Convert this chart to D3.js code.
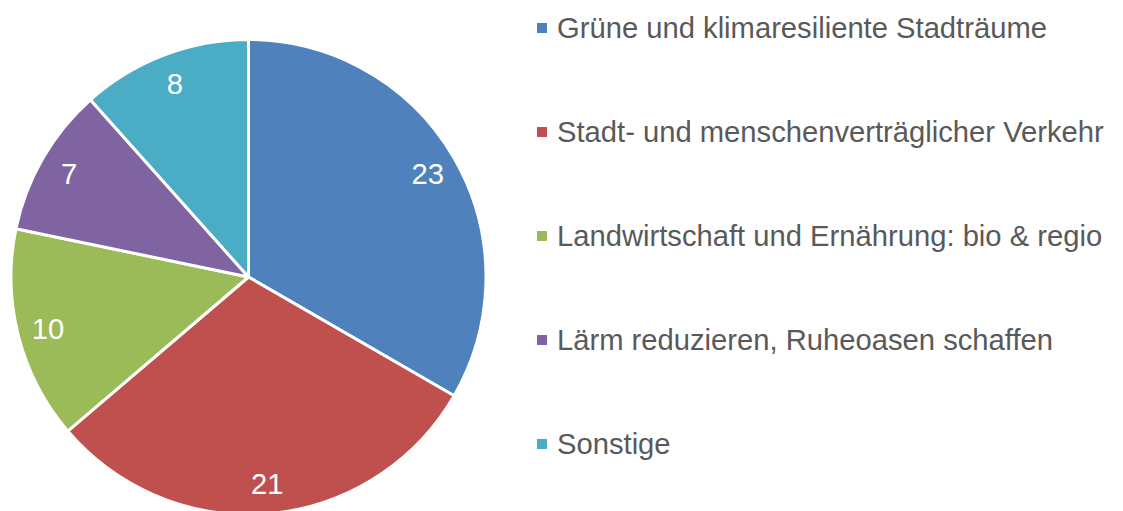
<!DOCTYPE html>
<html>
<head>
<meta charset="utf-8">
<script src="https://cdn.jsdelivr.net/npm/d3@7"></script>
<style>
body { margin: 0; background: #fff; }
text { font-family: "Liberation Sans", Arial, sans-serif; }
</style>
</head>
<body>
<svg id="chart" width="1123" height="511"></svg>
<script>
var categories = ["Grüne und klimaresiliente Stadträume",
                  "Stadt- und menschenverträglicher Verkehr",
                  "Landwirtschaft und Ernährung: bio & regio",
                  "Lärm reduzieren, Ruheoasen schaffen",
                  "Sonstige"];
var values = [23, 21, 10, 7, 8];
var colors = ["#4F81BD", "#C0504D", "#9BBB59", "#8064A2", "#4BACC6"];

var svg = d3.select("#chart"),
    cx = 248.5, cy = 277, r = 237.5,
    fs = 29.2;

var pie = d3.pie().sort(null).value(d => d.v),
    arc = d3.arc().innerRadius(0).outerRadius(r),
    labelArc = d3.arc().innerRadius(207).outerRadius(207);
var data = pie(values.map((v,i) => ({v: v, c: categories[i], col: colors[i]})));

var g = svg.append("g").attr("transform", "translate("+cx+","+cy+")");
g.selectAll("path").data(data).enter().append("path")
    .attr("d", arc)
    .attr("fill", d => d.data.col)
    .attr("stroke", "#fff")
    .attr("stroke-width", 3)
    .attr("stroke-linejoin", "round");
g.selectAll("text").data(data).enter().append("text")
    .attr("transform", d => "translate("+labelArc.centroid(d)+")")
    .attr("text-anchor", "middle")
    .attr("dy", "0.36em")
    .attr("fill", "#fff")
    .attr("font-size", fs)
    .text(d => d.data.v);

// legend
var y = d3.scalePoint().domain(categories).range([38, 454]);
var leg = svg.append("g").selectAll("g").data(categories).enter().append("g")
    .attr("transform", d => "translate(537,"+y(d)+")");
leg.append("rect")
    .attr("y", -15).attr("width", 10).attr("height", 10)
    .attr("fill", (_,i) => colors[i]);
leg.append("text")
    .attr("x", 20)
    .attr("fill", "#595959")
    .attr("font-size", fs)
    .text(d => d);
</script>
</body>
</html>
